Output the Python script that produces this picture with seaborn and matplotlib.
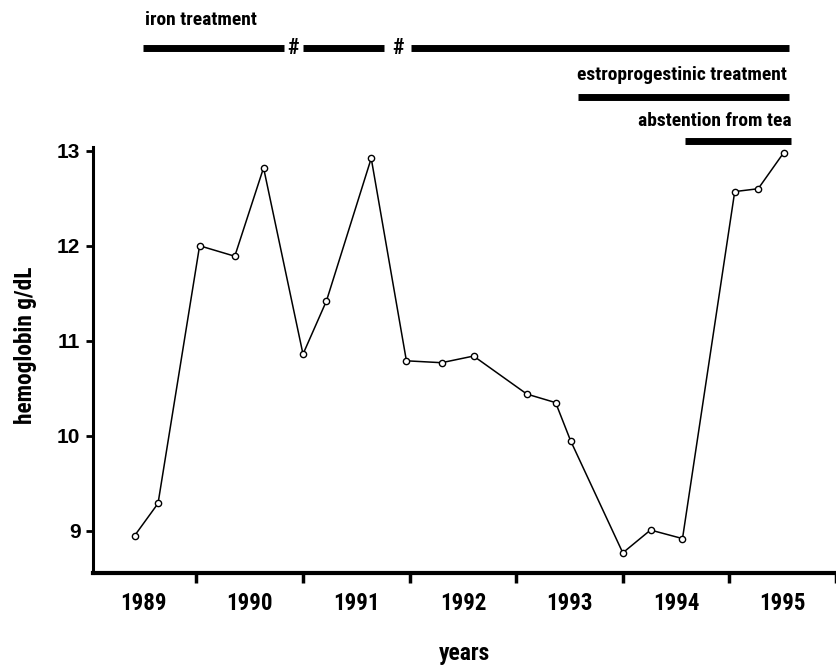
import numpy as np
import pandas as pd
import seaborn as sns
import matplotlib.pyplot as plt
from matplotlib import font_manager

# hemoglobin measurements, x in fractional years
years = [1989.42, 1989.64, 1990.03, 1990.36, 1990.63, 1991.00, 1991.22,
         1991.64, 1991.97, 1992.30, 1992.60, 1993.10, 1993.37, 1993.51,
         1994.00, 1994.26, 1994.56, 1995.05, 1995.27, 1995.51]
hemoglobin = [8.95, 9.29, 12.00, 11.89, 12.82, 10.86, 11.42,
              12.92, 10.79, 10.77, 10.84, 10.44, 10.35, 9.95,
              8.77, 9.01, 8.92, 12.57, 12.60, 12.98]

year_labels = ['1989', '1990', '1991', '1992', '1993', '1994', '1995']
y_ticks = [9, 10, 11, 12, 13]

# treatment periods (start, end) in fractional years
iron_segments = [(1989.50, 1990.82), (1991.00, 1991.76), (1992.01, 1995.56)]
iron_breaks = [1990.91, 1991.89]
estro_period = (1993.58, 1995.56)
tea_period = (1994.58, 1995.58)

df = pd.DataFrame({'year': years, 'hb': hemoglobin})

sns.set_style('white')
plt.rcParams['font.family'] = ['Liberation Sans', 'DejaVu Sans']
for key in ['text.color', 'axes.labelcolor', 'xtick.color', 'ytick.color']:
    plt.rcParams[key] = 'black'

# condensed look for the labels
names = {f.name for f in font_manager.fontManager.ttflist}
narrow = [n for n in ['DejaVu Sans Condensed', 'Roboto Condensed',
                      'Liberation Sans Narrow', 'Open Sans Condensed']
          if n in names] + ['Roboto', 'DejaVu Sans']
stretch = 'condensed'

fig = plt.figure(figsize=(8.37, 6.68), dpi=100)
ax = fig.add_axes([93 / 837, 95 / 668, 743 / 837, 563 / 668])

sns.lineplot(data=df, x='year', y='hb', ax=ax, color='black', linewidth=1.1,
             marker='o', markersize=4.5, markerfacecolor='white',
             markeredgecolor='black', markeredgewidth=1.0)

ax.set_xlim(1989.03, 1996.0)
ax.set_ylim(8.558, 14.48)

for side in ['top', 'right']:
    ax.spines[side].set_visible(False)
ax.spines['left'].set_bounds(8.558, 13.04)
ax.spines['left'].set_linewidth(2.2)
ax.spines['bottom'].set_linewidth(3.0)
ax.spines['left'].set_color('black')
ax.spines['bottom'].set_color('black')

# year boundaries as ticks, labels in the middle of each year
bounds = np.arange(1990, 1997)
ax.set_xticks(bounds)
ax.set_xticklabels([''] * len(bounds))
ax.set_xticks(np.arange(1989.5, 1996.0, 1.0), minor=True)
ax.set_xticklabels(year_labels, minor=True, family=narrow, fontstretch=stretch,
                   fontsize=16.5, fontweight='bold')
ax.tick_params(axis='x', which='major', direction='out', length=7,
               width=2.5, color='black', bottom=True)
ax.tick_params(axis='x', which='minor', length=0, pad=14)

ax.set_yticks(y_ticks)
ax.set_yticklabels([str(v) for v in y_ticks], fontsize=15, fontweight='bold')
ax.tick_params(axis='y', direction='out', length=5, width=2, color='black',
               pad=4, left=True)

ax.set_xlabel('years', family=narrow, fontstretch=stretch, fontsize=17,
              fontweight='bold', labelpad=19)
ax.set_ylabel('hemoglobin g/dL', family=narrow, fontstretch=stretch,
              fontsize=16.8, fontweight='bold')
ax.yaxis.set_label_coords(-0.076, 0.405)

# treatment bars above the curve
for start, end in iron_segments:
    ax.hlines(14.08, start, end, color='black', linewidth=5)
for xb in iron_breaks:
    ax.text(xb, 14.08, '#', ha='center', va='center', family=narrow,
            fontstretch=stretch, fontsize=16, fontweight='bold')
ax.hlines(13.56, *estro_period, color='black', linewidth=5)
ax.hlines(13.10, *tea_period, color='black', linewidth=5)

ax.text(1989.52, 14.375, 'iron treatment', ha='left', va='center',
        family=narrow, fontstretch=stretch, fontsize=14, fontweight='bold')
ax.text(1995.54, 13.80, 'estroprogestinic treatment', ha='right',
        va='center', family=narrow, fontstretch=stretch, fontsize=14,
        fontweight='bold')
ax.text(1995.58, 13.31, 'abstention from tea', ha='right', va='center',
        family=narrow, fontstretch=stretch, fontsize=14, fontweight='bold')

fig.savefig('out.png', dpi=100)
